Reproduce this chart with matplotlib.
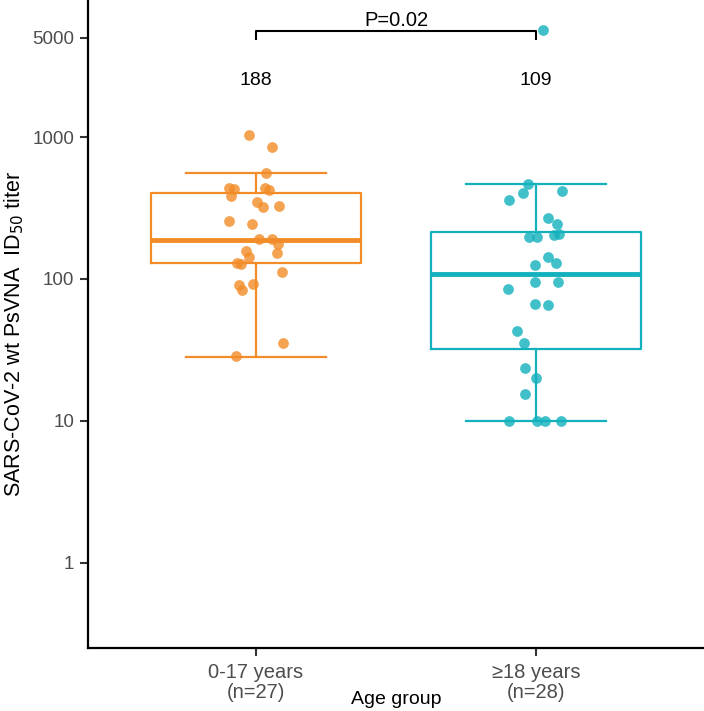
import matplotlib
matplotlib.use('Agg')
import matplotlib.pyplot as plt

plt.rcParams['font.family'] = ['Liberation Sans', 'DejaVu Sans']

groups = ['0-17 years\n(n=27)', '\u226518 years\n(n=28)']
colors = ['#F28C28', '#12B1BD']
medians = [188, 109]

# box stats
q1 = [130, 32.2]
q3 = [403, 214]
whislo = [28.2, 10]
whishi = [558, 467]

# points (value, jitter offset from group centre)
kids = [1033, 851, 558, 437, 430, 384, 437, 423, 349, 321, 327, 256, 244, 191,
        191, 176, 157, 143, 152, 130, 128, 112, 90.7, 83.7, 92.2, 35.4, 28.7]
kids_jit = [-0.025, 0.057, 0.036, -0.096, -0.079, -0.089, 0.032, 0.046, 0.004,
            0.025, 0.082, -0.096, -0.014, 0.011, 0.057, 0.079, -0.036, -0.025,
            0.075, -0.068, -0.054, 0.093, -0.061, -0.050, -0.011, 0.096, -0.071]
adults = [5670, 467, 403, 360, 417, 269, 244, 198, 198, 204, 207, 143, 126, 130,
          95.2, 95.2, 85.1, 66.7, 65.6, 43.0, 35.4, 23.6, 20.1, 15.5, 10, 10, 10, 10]
adults_jit = [0.025, -0.029, -0.046, -0.096, 0.093, 0.043, 0.075, -0.025, 0.004,
              0.064, 0.082, 0.043, -0.004, 0.071, -0.004, 0.079, -0.100, -0.004,
              0.043, -0.068, -0.043, -0.039, 0.0, -0.039, -0.096, 0.004, 0.032, 0.089]
pvalue = 'P=0.02'

fig = plt.figure(figsize=(7.04, 7.11), dpi=100)
ax = fig.add_axes([88 / 704, 63 / 711, 616 / 704, 648 / 711])

for i in range(2):
    st = [dict(med=medians[i], q1=q1[i], q3=q3[i], whislo=whislo[i],
               whishi=whishi[i], fliers=[])]
    c = colors[i]
    ax.bxp(st, positions=[i + 1], widths=0.75, showfliers=False,
           boxprops=dict(color=c, linewidth=1.6),
           whiskerprops=dict(color=c, linewidth=1.6),
           capprops=dict(color=c, linewidth=1.6),
           medianprops=dict(color=c, linewidth=3.5), capwidths=0.5)

for i, (vals, jit) in enumerate([(kids, kids_jit), (adults, adults_jit)]):
    xs = [i + 1 + j for j in jit]
    ax.scatter(xs, vals, s=60, color=colors[i], alpha=0.8, linewidths=0, zorder=3)

for i in range(2):
    ax.text(i + 1, 2500, str(medians[i]), ha='center', va='center', fontsize=14)

# significance bracket
ax.plot([1, 1, 2, 2], [4900, 5600, 5600, 4900], color='black', linewidth=1.5)
ax.text(1.5, 6600, pvalue, ha='center', va='center', fontsize=14.5)

ax.set_yscale('log')
ax.set_ylim(10 ** -0.599, 10 ** 3.965)
ax.set_xlim(0.4, 2.6)
ax.set_yticks([1, 10, 100, 1000, 5000])
ax.set_yticklabels(['1', '10', '100', '1000', '5000'])
ax.minorticks_off()
ax.set_xticks([1, 2])
ax.set_xticklabels(groups, linespacing=1.05)
ax.tick_params(axis='both', labelcolor='#4D4D4D', width=1.5,
               length=6, color='#333333')
ax.tick_params(axis='y', labelsize=13.5, pad=4)
ax.tick_params(axis='x', labelsize=14.5, pad=5)
ax.set_xlabel('Age group', fontsize=14)
ax.xaxis.set_label_coords(0.5, -0.066)
ax.set_ylabel('SARS-CoV-2 wt PsVNA  ID$_{50}$ titer', fontsize=15.5)
ax.yaxis.set_label_coords(-0.10, 0.485)
for s in ['top', 'right']:
    ax.spines[s].set_visible(False)
for s in ['left', 'bottom']:
    ax.spines[s].set_linewidth(1.6)

fig.savefig('out.png', dpi=100)
